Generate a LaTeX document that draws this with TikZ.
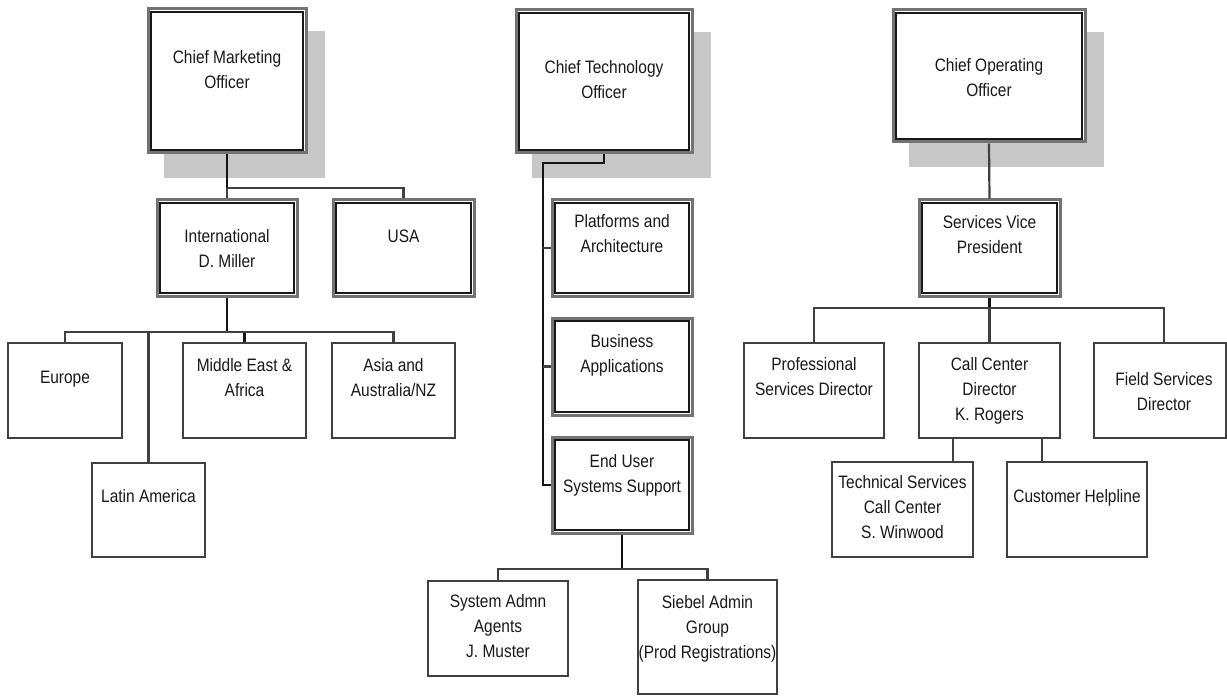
\documentclass[tikz,border=0pt]{standalone}
\usepackage{fontspec}
\setmainfont{Liberation Sans}[FakeStretch=0.86]
\usetikzlibrary{backgrounds}
\newcommand\ml[1]{\begin{tabular}[t]{@{}c@{}}#1\end{tabular}}
\newcommand\orgbox[6]{\node[#1, minimum width={#5-#3}, minimum height={#6-#4}] (#2) at ({(#3+#5)/2},{(#4+#6)/2}) {};}
\tikzset{
  sbox/.style={draw=black!75, line width=1.8pt, fill=white, rectangle, inner sep=0pt},
  dbox/.style={draw=black!55, line width=3pt, fill=white, rectangle, inner sep=0pt},
  innerline/.style={draw=black!90, line width=1.6pt},
  conn/.style={draw=black!75, line width=2.2pt},
  heavy/.style={draw=black!92, line width=2.6pt},
  shadowfill/.style={fill=black!22},
  lbl/.style={inner sep=0pt, anchor=base, font=\fontsize{18}{25}\selectfont, text=black!90},
}
\begin{document}
\begin{tikzpicture}[x=1pt,y=-1pt]
\useasboundingbox (0,0) rectangle (1227,698);
% boxes
\orgbox{dbox}{cmo}{148}{9}{306}{153}
\orgbox{dbox}{cto}{516}{10}{692}{153}
\orgbox{dbox}{coo}{893}{10}{1085}{142}
\orgbox{dbox}{intl}{157}{200}{297}{296}
\orgbox{dbox}{usa}{333}{200}{474}{296}
\orgbox{dbox}{plat}{552}{200}{692}{296}
\orgbox{dbox}{bus}{552}{318}{692}{415}
\orgbox{dbox}{eus}{552}{437}{692}{533}
\orgbox{dbox}{svp}{919}{200}{1060}{296}
\orgbox{sbox}{eur}{8}{343}{122}{438}
\orgbox{sbox}{mea}{183}{343}{306}{438}
\orgbox{sbox}{asia}{332}{343}{455}{438}
\orgbox{sbox}{lat}{92}{463}{205}{557}
\orgbox{sbox}{sys}{428}{581}{568}{676}
\orgbox{sbox}{sieb}{638}{580}{777}{694}
\orgbox{sbox}{prof}{744}{343}{884}{438}
\orgbox{sbox}{ccd}{919}{343}{1060}{438}
\orgbox{sbox}{fsd}{1094}{343}{1226}{438}
\orgbox{sbox}{tech}{832}{462}{973}{557}
\orgbox{sbox}{help}{1007}{462}{1147}{557}
% inner lines of double boxes
\foreach \n in {cmo,cto,coo,intl,usa,plat,bus,eus,svp}
  \draw[innerline] ([shift={(4.5,4.5)}]\n.north west) rectangle ([shift={(-4.5,-4.5)}]\n.south east);
% shadows
\begin{scope}[on background layer]
  \fill[white] (0,0) rectangle (1227,698);
  \foreach \n in {cmo,cto,coo}
    \fill[shadowfill] ([shift={(17,24)}]\n.north west) rectangle ([shift={(17,24)}]\n.south east);
\end{scope}
% connectors: marketing
\coordinate (mbus) at (227,188);
\draw[heavy] (cmo.south) -- (mbus);
\draw[conn] (mbus) -- (intl.north);
\draw[conn] (mbus) -| (usa.north);
\coordinate (ibus) at (227,332);
\draw[heavy] (intl.south) -- (ibus) -| (mea.north);
\draw[conn] (eur.north) |- (ibus) -| (asia.north);
\draw[conn] (lat.north) -- (lat.north |- ibus);
% technology
\coordinate (tspine) at (543,163);
\draw[heavy] (cto.south) |- (tspine) |- (eus.west);
\draw[conn] (tspine |- plat.west) -- (plat.west);
\draw[conn] (tspine |- bus.west) -- (bus.west);
\coordinate (ebus) at (622,569);
\draw[heavy] (eus.south) -- (ebus);
\draw[conn] (sys.north) |- (ebus) -| (sieb.north);
% operations
\draw[conn] (coo.south) -- (svp.north);
\coordinate (sbus) at (989.5,308);
\coordinate (fsdtop) at (1164,343);
\draw[heavy] (svp.south) -- (sbus);
\draw[conn] (prof.north) |- (sbus) -| (fsdtop);
\draw[conn] (sbus) -- (ccd.north);
\coordinate (cca) at (953,438);
\coordinate (ccb) at (1042,438);
\draw[conn] (cca) -- (cca |- tech.north);
\draw[conn] (ccb) -- (ccb |- help.north);
% labels
\node[lbl] (tcmo) at (227,64) {\ml{Chief Marketing\\Officer}};
\node[lbl] (tcto) at (604,74) {\ml{Chief Technology\\Officer}};
\node[lbl] (tcoo) at (989,72) {\ml{Chief Operating\\Officer}};
\node[lbl] (tintl) at (227,242) {\ml{International\\D. Miller}};
\node[lbl] (tusa) at (403.5,242) {USA};
\node[lbl] (teur) at (65,383) {Europe};
\node[lbl] (tmea) at (244.5,371) {\ml{Middle East \&\\Africa}};
\node[lbl] (tasia) at (393.5,371) {\ml{Asia and\\Australia/NZ}};
\node[lbl] (tlat) at (148.5,502) {Latin America};
\node[lbl] (tplat) at (622,227) {\ml{Platforms and\\Architecture}};
\node[lbl] (tbus) at (622,347) {\ml{Business\\Applications}};
\node[lbl] (teus) at (622,467) {\ml{End User\\Systems Support}};
\node[lbl] (tsys) at (498,607) {\ml{System Admn\\Agents\\J. Muster}};
\node[lbl] (tsieb) at (707.5,608) {\ml{Siebel Admin\\Group\\(Prod Registrations)}};
\node[lbl] (tsvp) at (989.5,228) {\ml{Services Vice\\President}};
\node[lbl] (tprof) at (814,370) {\ml{Professional\\Services Director}};
\node[lbl] (tccd) at (989.5,370) {\ml{Call Center\\Director\\K. Rogers}};
\node[lbl] (tfsd) at (1164,385) {\ml{Field Services\\Director}};
\node[lbl] (ttech) at (902.5,488) {\ml{Technical Services\\Call Center\\S. Winwood}};
\node[lbl] (thelp) at (1077,502) {Customer Helpline};
\end{tikzpicture}
\end{document}
